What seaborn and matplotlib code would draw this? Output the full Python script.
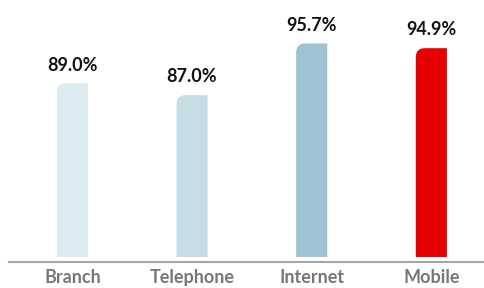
import numpy as np
import pandas as pd
import seaborn as sns
import matplotlib.pyplot as plt
from matplotlib.path import Path
from matplotlib.patches import PathPatch

# data
channels = ['Branch', 'Telephone', 'Internet', 'Mobile']
shares = [89.0, 87.0, 95.7, 94.9]
bar_colors = ['#ddecf2', '#c5dee6', '#9ec3d4', '#e60000']

df = pd.DataFrame({'channel': channels, 'share': shares})

sns.set_style('white')
plt.rcParams['font.family'] = ['Lato', 'DejaVu Sans']

fig = plt.figure(figsize=(4.84, 2.88), dpi=100)
ax = fig.add_axes([9 / 484, 31 / 288, 475 / 484, 257 / 288])

sns.barplot(data=df, x='channel', y='share', hue='channel', palette=bar_colors,
            width=0.26, legend=False, saturation=1, ax=ax)

ax.set_ylim(59.8, 103.0)
ax.set_xlim(-0.53, 3.44)

# swap the plain rectangles for ones with a rounded top-left corner
r_px = 9
x_per_px = (ax.get_xlim()[1] - ax.get_xlim()[0]) / 475
y_per_px = (ax.get_ylim()[1] - ax.get_ylim()[0]) / 257
rx, ry = r_px * x_per_px, r_px * y_per_px
for p in list(ax.patches):
    x0, y0 = p.get_x(), ax.get_ylim()[0]
    x1, y1 = x0 + p.get_width(), p.get_height()
    verts = [(x0, y0), (x1, y0), (x1, y1), (x0 + rx, y1), (x0, y1), (x0, y1 - ry), (x0, y0)]
    codes = [Path.MOVETO, Path.LINETO, Path.LINETO, Path.LINETO, Path.CURVE3, Path.CURVE3, Path.CLOSEPOLY]
    ax.add_patch(PathPatch(Path(verts, codes), facecolor=p.get_facecolor(), edgecolor='none'))
    p.remove()

for i, v in enumerate(shares):
    ax.annotate(f'{v:.1f}%', (i, v), xytext=(0, 7), textcoords='offset points',
                ha='center', va='bottom', fontsize=13, fontweight='bold', color='#111111')

sns.despine(ax=ax, left=True, offset={'bottom': 3.6})
ax.spines['bottom'].set_color('#a6a6a6')
ax.spines['bottom'].set_linewidth(1.5)
ax.set_yticks([])
ax.set_xlabel('')
ax.set_ylabel('')
ax.tick_params(axis='x', length=0, pad=5, labelsize=13, labelcolor='#777777')
for t in ax.get_xticklabels():
    t.set_fontweight('bold')

plt.savefig('out.png', dpi=100)
